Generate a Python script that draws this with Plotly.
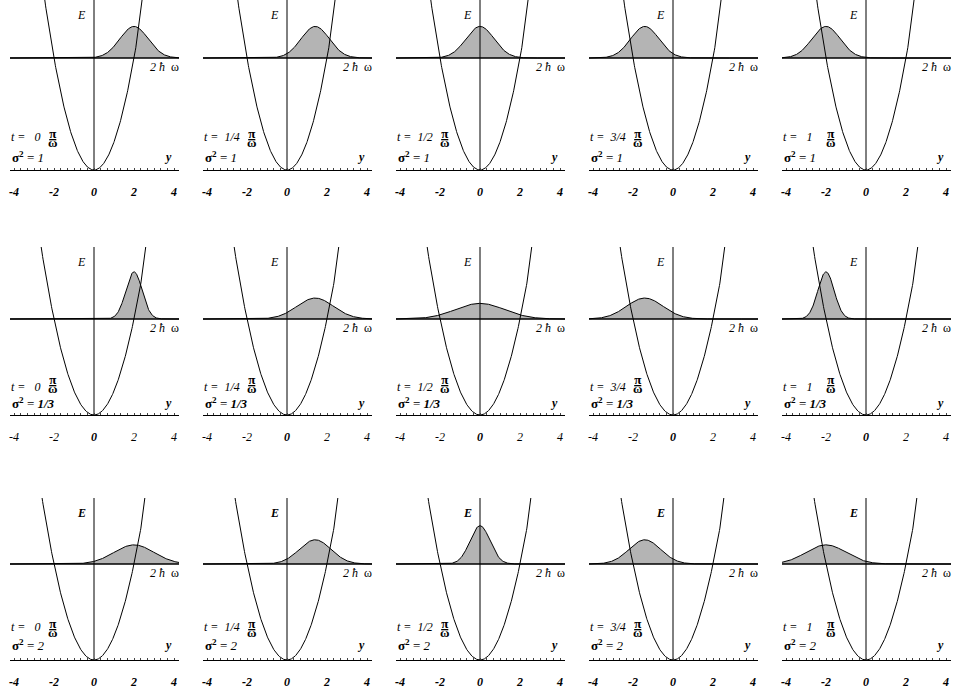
import numpy as np
import plotly.graph_objects as go

# time of each column, in units of pi/omega
times = ["0", "1/4", "1/2", "3/4", "1"]
# initial width of the packet in each row
sigma_labels = ["1", "1/3", "2"]
# centre of the packet in each column
centers = [2.0, 1.41, 0.0, -1.41, -2.0]
# packet variance in each panel
variances = [
    [1.0, 1.0, 1.0, 1.0, 1.0],
    [0.33, 1.67, 3.0, 1.67, 0.33],
    [2.0, 1.25, 0.5, 1.25, 2.0],
]
level = 2.0  # the 2 hbar omega line
tick_vals = [-4, -2, 0, 2, 4]
tick_text = ["-4", "-2", "0", "2", "4"]
bold_ticks = [
    [True, True, True, True, True],
    [False, False, True, False, False],
    [True, True, True, True, True],
]
bold_E = [False, False, True]

W, H = 953, 695
x_range = [-4.2, 4.25]
col_zero = [94 + 193 * c for c in range(5)]   # pixel x of y=0
row_base = [170, 415, 660]                    # pixel y of E=0
row_scale = [56, 48, 48]                      # pixels per unit of E
row_top = [0, 247, 498]
t_shift = [33, 28, 33]
frac_shift = [32, 31, 32]
sig_shift = [13, 12, 15]

FONT = "Liberation Serif"
fill_gray = "#b4b4b4"

fig = go.Figure()
annotations = []
ygrid = np.linspace(x_range[0], x_range[1], 400)

for r in range(3):
    e_top = (row_base[r] - row_top[r]) / row_scale[r]
    for c in range(5):
        i = r * 5 + c + 1
        sfx = "" if i == 1 else str(i)
        xa, ya = "x" + sfx, "y" + sfx
        # 2 hbar omega line and the packet on top of it
        fig.add_trace(go.Scatter(x=x_range, y=[level, level], mode="lines",
                                 line=dict(color="black", width=1.4),
                                 xaxis=xa, yaxis=ya, showlegend=False))
        v = variances[r][c]
        prob = np.exp(-(ygrid - centers[c]) ** 2 / v) / np.sqrt(np.pi * v)
        fig.add_trace(go.Scatter(x=ygrid, y=level + prob, mode="lines",
                                 fill="tonexty", fillcolor=fill_gray,
                                 line=dict(color="black", width=1),
                                 xaxis=xa, yaxis=ya, showlegend=False))
        # potential
        fig.add_trace(go.Scatter(x=ygrid, y=ygrid ** 2 / 2, mode="lines",
                                 line=dict(color="black", width=1),
                                 xaxis=xa, yaxis=ya, showlegend=False))
        # E axis
        fig.add_trace(go.Scatter(x=[0, 0], y=[0, e_top], mode="lines",
                                 line=dict(color="black", width=1),
                                 xaxis=xa, yaxis=ya, showlegend=False))

        left = (col_zero[c] + x_range[0] * 20) / W
        right = (col_zero[c] + x_range[1] * 20) / W
        ticks = [f"<b>{t}</b>" if b else t for t, b in zip(tick_text, bold_ticks[r])]
        fig.layout["xaxis" + sfx] = dict(
            domain=[left, right], range=x_range, anchor=ya,
            showgrid=False, zeroline=False, showline=True,
            linecolor="black", linewidth=1,
            tickmode="array", tickvals=tick_vals, ticktext=ticks,
            ticks="inside", ticklen=2, tickcolor="#444",
            minor=dict(tickmode="linear", tick0=0, dtick=1 / 3, ticks="inside",
                       ticklen=2, tickcolor="#444"),
            ticklabelstandoff=11,
            tickfont=dict(family=FONT, size=12, color="black", style="italic"),
            fixedrange=True)
        fig.layout["yaxis" + sfx] = dict(
            domain=[(H - row_base[r]) / H, (H - row_top[r]) / H],
            range=[0, e_top], anchor=xa, visible=False, fixedrange=True)

        txt = dict(family=FONT, size=12, color="black")
        e_text = "<b><i>E</i></b>" if bold_E[r] else "<i>E</i>"
        sig_val = f"<b>{sigma_labels[r]}</b>" if r == 1 else sigma_labels[r]
        t_val = times[c] if "/" in times[c] else " " + times[c]
        annotations += [
            dict(x=0, y=1, xref=xa, yref=f"{ya} domain", text=e_text,
                 xshift=-13, yshift=-6, showarrow=False, font=txt),
            dict(x=x_range[1], y=level, xref=xa, yref=ya, text="<i>2 ħ</i>  ω",
                 xanchor="right", xshift=2, yshift=-9, showarrow=False, font=txt),
            dict(x=x_range[1], y=0, xref=xa, yref=ya, text="<b><i>y</i></b>",
                 xanchor="right", xshift=-5, yshift=sig_shift[r], showarrow=False, font=txt),
            dict(x=x_range[0], y=0, xref=xa, yref=ya, text=f"<i>t =  {t_val}</i>",
                 xanchor="left", yshift=t_shift[r], showarrow=False, font=txt,
                 borderpad=0),
            dict(x=x_range[0], y=0, xref=xa, yref=ya,
                 text=f"<b>σ<sup>2</sup></b> = <i>{sig_val}</i>",
                 xanchor="left", yshift=sig_shift[r], showarrow=False,
                 font=dict(family=FONT, size=13, color="black")),
        ]
        # pi over omega, stacked in one text with tight line spacing
        frac_x = -2.05 if times[c] == "0" else -1.74
        big = "<span style='font-size:13px'><b>{}</b></span>"
        annotations.append(
            dict(x=frac_x, y=0, xref=xa, yref=ya,
                 text=big.format("<u>π</u>") + "<br>" + big.format("ω"),
                 yshift=frac_shift[r], showarrow=False, borderpad=0,
                 font=dict(family=FONT, size=7, color="black")))

fig.update_layout(width=W, height=H, margin=dict(l=0, r=0, t=0, b=0),
                  paper_bgcolor="white", plot_bgcolor="white",
                  annotations=annotations, showlegend=False)
fig.write_html("out.html", config={"displayModeBar": False},
               post_script="document.body.style.margin='0';")
